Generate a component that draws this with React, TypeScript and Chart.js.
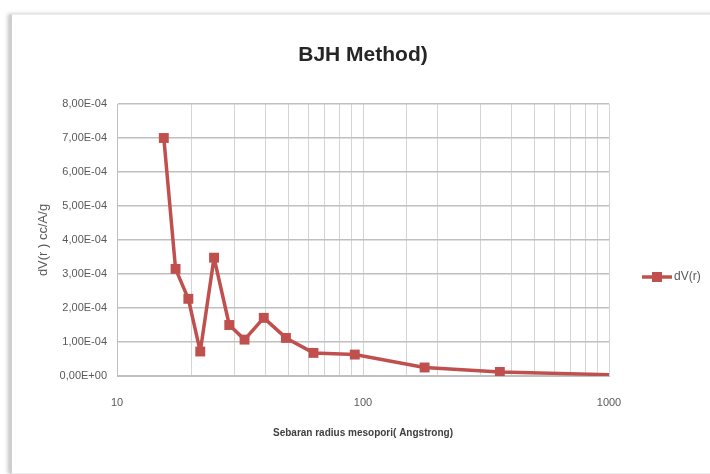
import React, { useEffect, useRef } from "react";
import { Chart, registerables } from "chart.js";

Chart.register(...registerables);

const radius: number[] = [15.5, 17.3, 19.5, 21.8, 24.8, 28.6, 33, 39.5, 48.6, 62.9, 92.6, 178, 360, 1000];
const dVr: number[] = [7.0e-4, 3.15e-4, 2.27e-4, 0.72e-4, 3.48e-4, 1.5e-4, 1.07e-4, 1.71e-4, 1.12e-4, 0.68e-4, 0.63e-4, 0.25e-4, 0.12e-4, 0.04e-4];
const markerRadius: number[] = [7, 7, 7, 7, 7, 7, 7, 7, 7, 7, 7, 7, 7, 0];
const majorTicks: number[] = [10, 100, 1000];
const seriesName = "dV(r)";
const chartTitle = "BJH Method)";
const xTitle = "Sebaran radius mesopori( Angstrong)";
const yTitle = "dV(r ) cc/A/g";

const FONT = "'Liberation Sans', Arial, sans-serif";
const RED = "#c0504d";
const GRAY = "#595959";

function fmtSci(v: number): string {
  if (v === 0) return "0,00E+00";
  const [m, e] = v.toExponential(2).split("e");
  const n = parseInt(e, 10);
  const sign = n < 0 ? "-" : "+";
  const ab = Math.abs(n).toString().padStart(2, "0");
  return m.replace(".", ",") + "E" + sign + ab;
}

const legendPlugin = {
  id: "sideLegend",
  afterDraw(chart: any) {
    const { ctx, chartArea } = chart;
    const ds = chart.data.datasets[0];
    const x0 = chartArea.right + 33;
    const y = chartArea.top + 173;
    ctx.save();
    ctx.strokeStyle = ds.borderColor;
    ctx.lineWidth = 3.5;
    ctx.beginPath();
    ctx.moveTo(x0, y);
    ctx.lineTo(x0 + 30, y);
    ctx.stroke();
    ctx.fillStyle = ds.backgroundColor;
    ctx.fillRect(x0 + 10, y - 5, 10, 10);
    ctx.fillStyle = GRAY;
    ctx.font = `12px ${FONT}`;
    ctx.textBaseline = "middle";
    ctx.textAlign = "left";
    ctx.fillText(ds.label, x0 + 32, y);
    ctx.restore();
  },
};

export default function App() {
  const ref = useRef<HTMLCanvasElement>(null);
  useEffect(() => {
    if (!ref.current) return;
    const chart = new Chart(ref.current, {
      type: "line",
      data: {
        datasets: [
          {
            label: seriesName,
            data: radius.map((r, i) => ({ x: r, y: dVr[i] })),
            borderColor: RED,
            backgroundColor: RED,
            borderWidth: 3.5,
            borderJoinStyle: "round",
            borderCapStyle: "round",
            pointStyle: "rect",
            pointRadius: markerRadius,
            pointHoverRadius: markerRadius,
            pointBorderWidth: 0,
            tension: 0,
          },
        ],
      },
      options: {
        animation: false,
        responsive: false,
        layout: { padding: { left: 0, right: 101, top: 0, bottom: 0 } },
        plugins: {
          legend: { display: false },
          tooltip: { enabled: false },
          title: {
            display: true,
            text: chartTitle,
            fullSize: false,
            color: "#262626",
            font: { family: FONT, size: 21, weight: "bold" },
            padding: { top: 42.4, bottom: 36.4 },
          },
        },
        scales: {
          x: {
            type: "logarithmic",
            min: 10,
            max: 1000,
            afterFit: (s: any) => {
              s.height = 98;
            },
            border: { display: true, color: "#bfbfbf", width: 1 },
            grid: { color: "#d4d4d4", lineWidth: 1, drawTicks: false },
            ticks: {
              autoSkip: false,
              maxRotation: 0,
              padding: 20,
              color: GRAY,
              font: { family: FONT, size: 11 },
              callback: (v: any) => (majorTicks.includes(Number(v)) ? String(v) : ""),
            },
            title: {
              display: true,
              text: xTitle,
              color: "#404040",
              font: { family: FONT, size: 10, weight: "bold" },
              padding: { top: 0, bottom: 35 },
            },
          },
          y: {
            min: 0,
            max: 8e-4,
            afterFit: (s: any) => {
              s.width = 117;
            },
            border: { display: true, color: "#bfbfbf", width: 1 },
            grid: { color: "#bfbfbf", lineWidth: 1.5, drawTicks: false },
            ticks: {
              stepSize: 1e-4,
              padding: 10,
              color: GRAY,
              font: { family: FONT, size: 11 },
              callback: (v: any) => fmtSci(Number(v)),
            },
            title: {
              display: true,
              text: yTitle,
              color: GRAY,
              font: { family: FONT, size: 13 },
              padding: { top: 36, bottom: 0 },
            },
          },
        },
      },
      plugins: [legendPlugin],
    });
    return () => chart.destroy();
  }, []);

  return (
    <div style={{ position: "fixed", left: 0, top: 0, width: 710, height: 474, background: "#fff", overflow: "hidden" }}>
      <div
        style={{
          position: "absolute",
          left: 10,
          top: 14,
          width: 720,
          height: 458,
          borderLeft: "2px solid #cfcfcf",
          borderTop: "1px solid #ececec",
          borderBottom: "1px solid #ececec",
          boxShadow: "-2px 0 4px rgba(0,0,0,0.25)",
          background: "#fff",
        }}
      />
      <canvas ref={ref} width={710} height={474} style={{ position: "absolute", left: 0, top: 0 }} />
    </div>
  );
}
